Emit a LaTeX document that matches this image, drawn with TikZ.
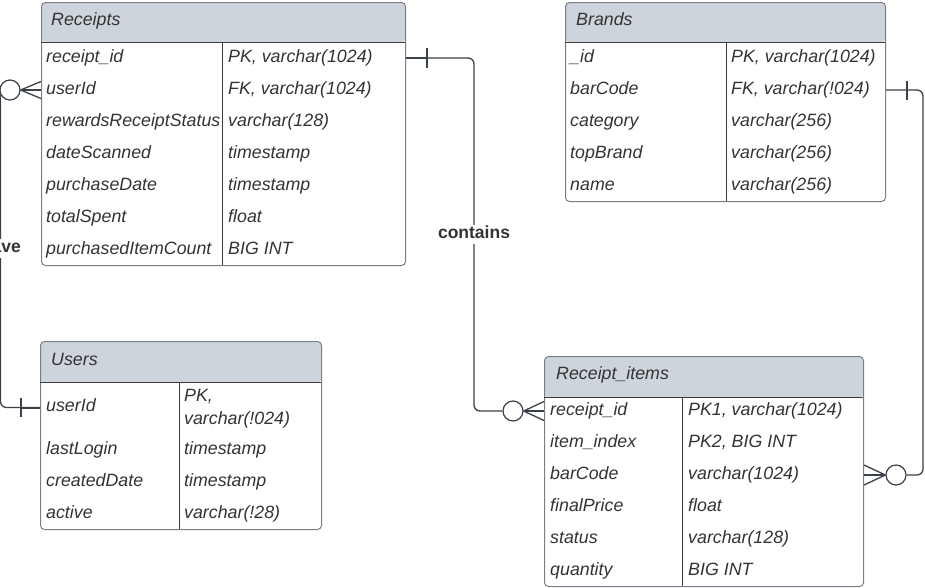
\documentclass[tikz,border=0pt]{standalone}
\usepackage{fontspec}
\setmainfont{Liberation Sans}
\usetikzlibrary{calc}
\definecolor{hdr}{HTML}{CED4DB}
\definecolor{edgec}{HTML}{7B7F85}
\definecolor{divc}{HTML}{3C3C3C}
\definecolor{ink}{HTML}{333333}
\definecolor{wire}{HTML}{3A414A}
\tikzset{
  tbl/.style={draw=edgec, line width=1pt, rounded corners=4pt, anchor=north west, inner sep=0pt,
    path picture={\fill[hdr] (path picture bounding box.north west) rectangle ([yshift=-#1]path picture bounding box.north east);}},
  divline/.style={draw=divc, line width=0.9pt},
  cell/.style={anchor=west, inner sep=0pt, text height=12pt, text depth=4pt,
    font=\fontsize{17.8}{20}\selectfont\itshape, text=ink},
  lbl/.style={inner sep=1.5pt, fill=white, text height=12pt, text depth=4pt,
    font=\fontsize{17.5}{20}\selectfont\bfseries, text=ink},
  wire/.style={draw=wire, line width=1.3pt},
  thick wire/.style={draw=wire, line width=2pt},
  circ/.style={circle, draw=wire, line width=1.2pt, fill=white, minimum size=20pt, inner sep=0pt},
}
\begin{document}
\begin{tikzpicture}[x=1pt, y=-1pt]
\useasboundingbox (0,0) rectangle (925,587);

% ---------- Receipts ----------
\node[tbl=40pt, minimum width=364pt, minimum height=263pt] (receipts) at (41,2) {};
\draw[divline] (41,42) -- (405,42);
\draw[divline] (222,42) -- (222,265);
\node[cell] (r-head) at (51,21) {Receipts};
\foreach \n/\a/\b [count=\i from 0] in {
  rid/receipt\_id/{PK, varchar(1024)},
  userId/userId/{FK, varchar(1024)},
  status/rewardsReceiptStatus/varchar(128),
  scanned/dateScanned/timestamp,
  pdate/purchaseDate/timestamp,
  spent/totalSpent/float,
  count/purchasedItemCount/BIG INT}{
  \node[cell] (r-\n) at (46,58+32*\i) {\a};
  \node[cell] (r-\n-t) at (228,58+32*\i) {\b};
}

% ---------- Brands ----------
\node[tbl=40pt, minimum width=320pt, minimum height=199pt] (brands) at (565,2) {};
\draw[divline] (565,42) -- (885,42);
\draw[divline] (726,42) -- (726,201);
\node[cell] (b-head) at (576,21) {Brands};
\foreach \n/\a/\b [count=\i from 0] in {
  id/\_id/{PK, varchar(1024)},
  barCode/barCode/{FK, varchar(!024)},
  category/category/varchar(256),
  top/topBrand/varchar(256),
  name/name/varchar(256)}{
  \node[cell] (b-\n) at (570,58+32*\i) {\a};
  \node[cell] (b-\n-t) at (731,58+32*\i) {\b};
}

% ---------- Users ----------
\node[tbl=41pt, minimum width=281pt, minimum height=188pt] (users) at (40,341) {};
\draw[divline] (40,382) -- (321,382);
\draw[divline] (179,382) -- (179,529);
\node[cell] (u-head) at (51,361) {Users};
\node[cell] (u-userId) at (46,407.5) {userId};
\node[cell] (u-userId-t1) at (184,397.7) {PK,};
\node[cell] (u-userId-t2) at (184,420) {varchar(!024)};
\foreach \n/\a/\b [count=\i from 0] in {
  login/lastLogin/timestamp,
  created/createdDate/timestamp,
  active/active/varchar(!28)}{
  \node[cell] (u-\n) at (46,450+32*\i) {\a};
  \node[cell] (u-\n-t) at (184,450+32*\i) {\b};
}

% ---------- Receipt_items ----------
\node[tbl=41pt, minimum width=319pt, minimum height=230pt] (items) at (544,356) {};
\draw[divline] (544,397) -- (863,397);
\draw[divline] (682,397) -- (682,586);
\node[cell] (i-head) at (556,375) {Receipt\_items};
\foreach \n/\a/\b [count=\i from 0] in {
  rid/receipt\_id/{PK1, varchar(1024)},
  index/item\_index/{PK2, BIG INT},
  barCode/barCode/varchar(1024),
  price/finalPrice/float,
  status/status/varchar(128),
  qty/quantity/BIG INT}{
  \node[cell] (i-\n) at (550,411+32*\i) {\a};
  \node[cell] (i-\n-t) at (688,411+32*\i) {\b};
}

% ---------- Connector 1: Receipts.userId  >o ---- |  Users.userId ----------
\coordinate (e1a) at (receipts.west |- r-userId);
\coordinate (e1b) at (users.west |- u-userId);
\coordinate (v1) at (1,248);
\node[circ] (c1o) at ([xshift=-31pt]e1a) {};
\draw[wire, rounded corners=6pt] (c1o.206) |- (e1b);
\draw[thick wire] ([xshift=-19pt]e1b) -- (e1b);
\draw[wire] ([xshift=-19pt,yshift=9.5pt]e1b) -- ([xshift=-19pt,yshift=-9.5pt]e1b);
\draw[wire] (c1o.east) -- ([yshift=8.5pt]e1a);
\draw[thick wire] (c1o.east) -- (e1a);
\draw[wire] (c1o.east) -- ([yshift=-8.5pt]e1a);
\node[lbl] (l1) at (v1) {have};

% ---------- Connector 2: Receipts.receipt_id | ---- o< Receipt_items.receipt_id ----------
\coordinate (e2a) at (receipts.east |- r-rid);
\coordinate (e2b) at (items.west |- i-rid);
\coordinate (v2) at (474,234);
\node[circ] (c2o) at ([xshift=-31pt]e2b) {};
\draw[wire, rounded corners=6pt] (e2a) -| (v2) |- (c2o.west);
\draw[thick wire] (e2a) -- ([xshift=21pt]e2a);
\draw[wire] ([xshift=21pt,yshift=10pt]e2a) -- ([xshift=21pt,yshift=-10pt]e2a);
\draw[wire] (c2o.east) -- ([yshift=9.5pt]e2b);
\draw[thick wire] (c2o.east) -- (e2b);
\draw[wire] (c2o.east) -- ([yshift=-9.5pt]e2b);
\node[lbl] (l2) at (v2) {contains};

% ---------- Connector 3: Brands.barCode | ---- o< Receipt_items.barCode ----------
\coordinate (e3a) at (brands.east |- b-barCode);
\coordinate (e3b) at (items.east |- i-barCode);
\coordinate (v3) at (923,280);
\node[circ] (c3o) at ([xshift=32pt]e3b) {};
\draw[wire, rounded corners=6pt] (e3a) -| (v3) |- (c3o.east);
\draw[wire] ([xshift=21pt,yshift=9.5pt]e3a) -- ([xshift=21pt,yshift=-9.5pt]e3a);
\draw[wire] (c3o.west) -- ([yshift=10pt]e3b);
\draw[wire] (c3o.west) -- (e3b);
\draw[wire] (c3o.west) -- ([yshift=-10pt]e3b);
\end{tikzpicture}
\end{document}
